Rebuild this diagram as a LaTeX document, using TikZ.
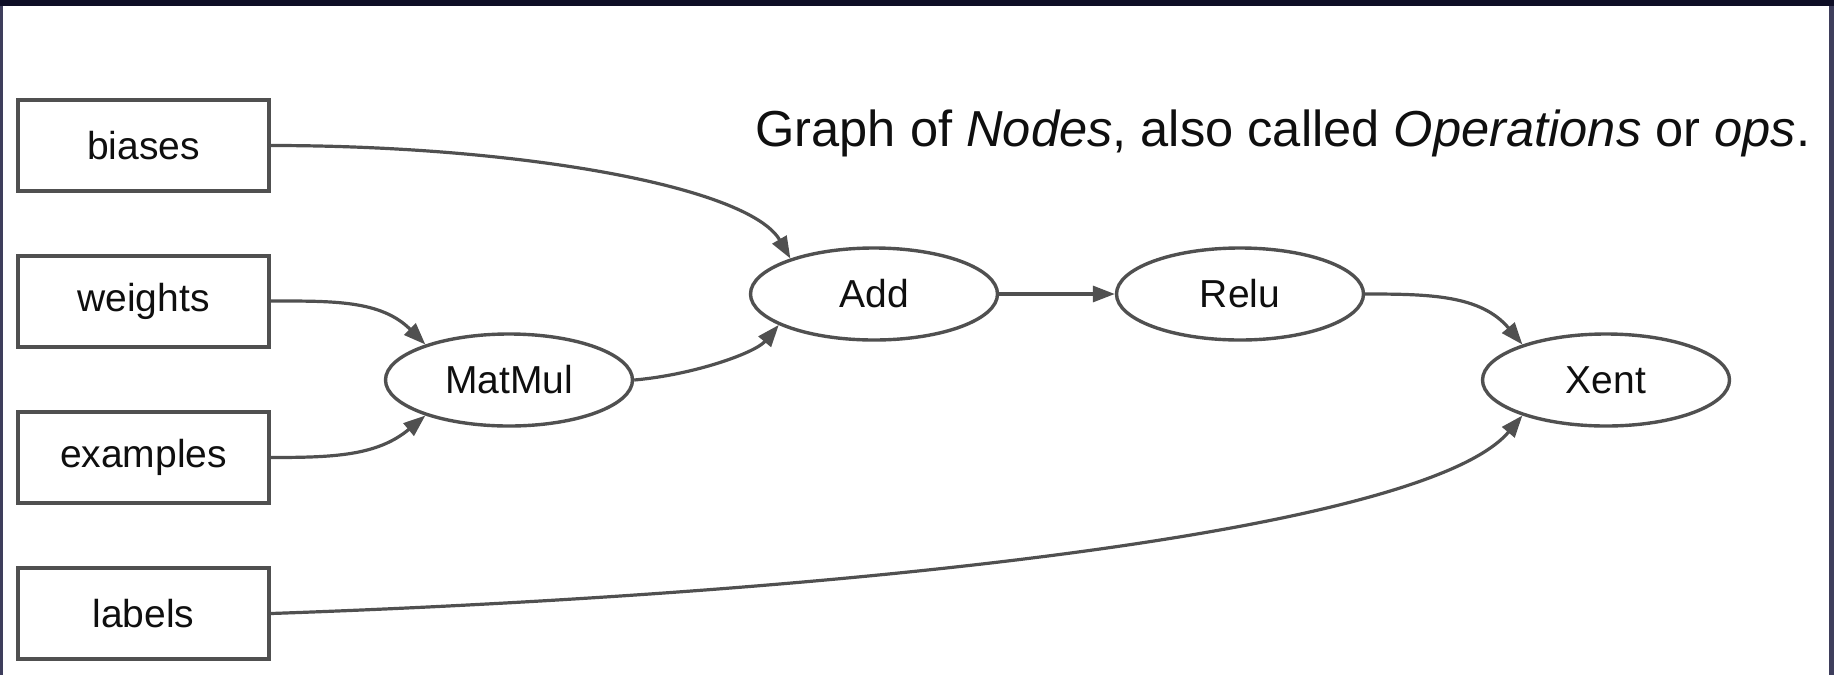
\documentclass[tikz,border=0pt]{standalone}
\usepackage{fontspec}
\setmainfont{Liberation Sans}
\usetikzlibrary{shapes.geometric,arrows.meta}
\definecolor{framenavy}{RGB}{14,14,38}
\definecolor{frameside}{RGB}{62,62,92}
\definecolor{edgegray}{RGB}{80,80,80}
\definecolor{inkdark}{RGB}{15,15,15}
\newcommand\opfont{\fontsize{19.5}{23}\selectfont}
\newcommand\headfont{\fontsize{25.3}{30}\selectfont}
\begin{document}
\begin{tikzpicture}[x=0.5pt,y=0.5pt,
  inbox/.style={draw=edgegray, line width=2pt, minimum width=125.5pt,
    minimum height=45.5pt, inner sep=0pt, font=\opfont, text=inkdark},
  opnode/.style={ellipse, draw=edgegray, line width=1.7pt, minimum width=123.5pt,
    minimum height=46pt, inner sep=0pt, font=\opfont, text=inkdark},
  flow/.style={draw=edgegray, line width=1.6pt,
    -{Triangle[length=11pt,width=8pt]}}]
  % page and frame
  \useasboundingbox (0,0) rectangle (1834,-675);
  \fill[white] (0,0) rectangle (1834,-675);
  \fill[framenavy] (0,0) rectangle (1834,-6);
  \fill[frameside] (0,-6) rectangle (2.5,-675);
  \fill[frameside] (1829,-6) rectangle (1834,-675);

  % heading
  \node[anchor=base west, font=\headfont, text=inkdark, inner sep=0pt] (head)
    at (755,-146) {Graph of \textit{Nodes}, also called \textit{Operations} or \textit{ops}.};

  % inputs
  \node[inbox] (biases)   at (143.5,-145.5) {biases};
  \node[inbox] (weights)  at (143.5,-301)   {weights};
  \node[inbox] (examples) at (143.5,-457.5) {examples};
  \node[inbox] (labels)   at (143.5,-613.5) {labels};

  % operations
  \node[opnode] (matmul) at (509,-380)  {MatMul};
  \node[opnode] (add)    at (874,-294)  {Add};
  \node[opnode] (relu)   at (1240,-294) {Relu};
  \node[opnode] (xent)   at (1606,-380) {Xent};

  % data flow
  \draw[flow] (biases.east) to[out=0,in=120,out looseness=1.2,in looseness=0.4] (add.157);
  \draw[flow] (weights.east) to[out=0,in=135] (matmul.157);
  \draw[flow] (examples.east) to[out=0,in=220] (matmul.203);
  \draw[flow] (matmul.east) to[out=5,in=230,in looseness=0.6] (add.198);
  \draw[flow] (add.east) -- (relu.west);
  \draw[flow] (relu.east) to[out=0,in=130] (xent.157);
  \draw[flow] (labels.east) to[out=2,in=230,out looseness=1.2,in looseness=0.3] (xent.203);
\end{tikzpicture}
\end{document}
